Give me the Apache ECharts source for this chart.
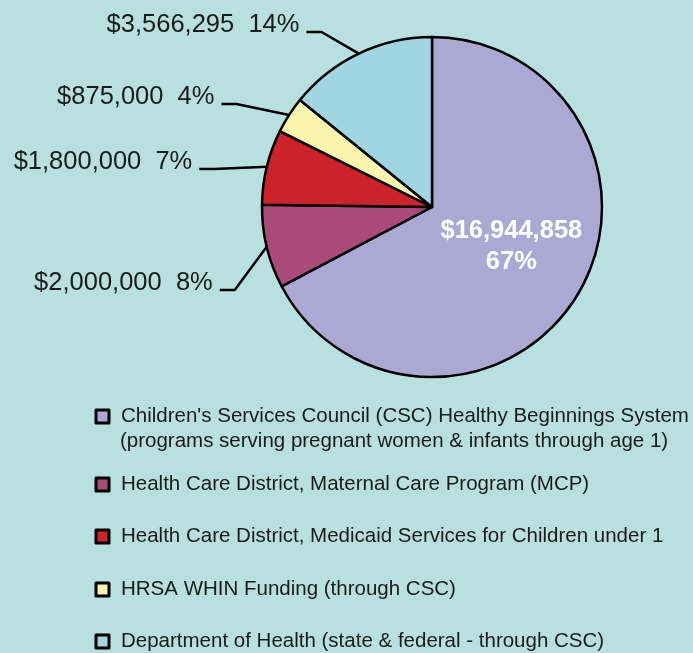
<!DOCTYPE html>
<html>
<head>
<meta charset="utf-8">
<script src="https://cdn.jsdelivr.net/npm/echarts@6/dist/echarts.min.js"></script>
<style>
  html, body { margin: 0; padding: 0; background: #b8e0de; }
  #chart { width: 693px; height: 653px; }
</style>
</head>
<body>
<div id="chart"></div>
<script>
const categories = [
    "Children's Services Council (CSC) Healthy Beginnings System\n(programs serving pregnant women & infants through age 1)",
    "Health Care District, Maternal Care Program (MCP)",
    "Health Care District, Medicaid Services for Children under 1",
    "HRSA WHIN Funding (through CSC)",
    "Department of Health (state & federal - through CSC)"
]
const amounts = [16944858, 2000000, 1800000, 875000, 3566295]
const colors = ['#aba9d3', '#a94a78', '#cc2229', '#fbf5ae', '#a2d5e2']

const font = 'Arial, "Liberation Sans", sans-serif'
const money = v => '$' + v.toLocaleString('en-US')

// layout of the outside labels (row height of each label, bend radius)
const cx = 432, cy = 207, R = 170
const labelRowY = [null, 290, 169, 104, 32]
const bendRadius = [null, 214, 221, 221, 207]
const legendTops = [406, 474, 526, 579, 631]

const chart = echarts.init(document.getElementById('chart'))

const pieData = categories.map((name, i) => {
    const item = {name: name, value: amounts[i], itemStyle: {color: colors[i]}}
    if (i === 0) {
        item.label = {
            position: 'inside',
            color: '#fff',
            fontWeight: 'bold',
            fontSize: 25.5,
            lineHeight: 31,
            offset: [4, -6],
            formatter: p => money(p.value) + '\n' + p.percent + '%'
        }
        item.labelLine = {show: false}
    }
    return item
})

const option = {
    backgroundColor: '#b8e0de',
    animation: false,
    legend: categories.map((name, i) => ({
        data: [name],
        orient: 'vertical',
        left: 94.5,
        top: legendTops[i],
        padding: 0,
        itemWidth: 13,
        itemHeight: 13,
        icon: 'rect',
        selectedMode: false,
        itemStyle: {borderColor: '#000', borderWidth: 3},
        formatter: n => n.split('\n')[0],
        textStyle: {fontFamily: font, fontSize: 20.5, color: '#1a1a1a', lineHeight: 20, padding: [0, 0, 0, 7]}
    })),
    graphic: categories.filter(n => n.includes('\n')).map(n => ({
        type: 'text',
        left: 120,
        top: 431,
        style: {
            text: n.split('\n')[1],
            font: '20.5px ' + font,
            fill: '#1a1a1a'
        }
    })),
    series: [{
        type: 'pie',
        center: [cx, cy],
        radius: R,
        startAngle: 90,
        clockwise: true,
        percentPrecision: 0,
        emphasis: {disabled: true},
        itemStyle: {borderColor: '#000', borderWidth: 2.5},
        label: {
            show: true,
            position: 'outside',
            fontFamily: font,
            fontSize: 25.5,
            color: '#1a1a1a',
            formatter: p => money(p.value) + '  ' + p.percent + '%'
        },
        labelLine: {
            show: true,
            length: 45,
            length2: 15,
            lineStyle: {color: '#000', width: 2.5}
        },
        labelLayout: function (params) {
            const i = params.dataIndex
            const pts = params.labelLinePoints
            if (!labelRowY[i] || !pts) return
            const y = labelRowY[i]
            const rb = bendRadius[i]
            const bx = cx - Math.sqrt(Math.max(rb * rb - (y - cy) * (y - cy), 0))
            const ex = bx - 15
            return {
                x: ex - 7,
                y: y - 7,
                align: 'right',
                verticalAlign: 'middle',
                labelLinePoints: [pts[0], [bx, y], [ex, y]]
            }
        },
        data: pieData
    }]
}

chart.setOption(option)
</script>
</body>
</html>
